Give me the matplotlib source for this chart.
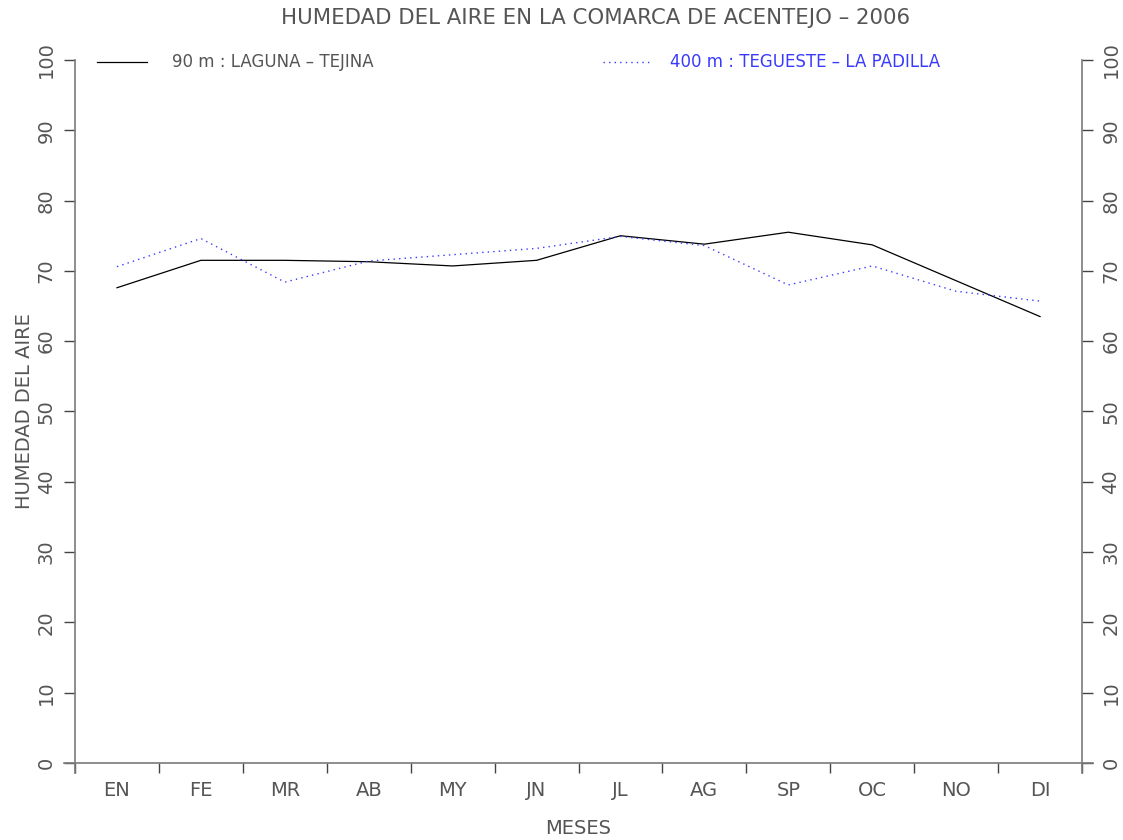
import matplotlib
matplotlib.use("Agg")
import matplotlib.pyplot as plt
import numpy as np

months = ["EN", "FE", "MR", "AB", "MY", "JN", "JL", "AG", "SP", "OC", "NO", "DI"]
laguna = [67.6, 71.5, 71.5, 71.3, 70.7, 71.5, 75.0, 73.8, 75.5, 73.7, 68.6, 63.5]
tegueste = [70.6, 74.6, 68.4, 71.4, 72.3, 73.2, 74.9, 73.6, 68.0, 70.7, 67.1, 65.7]
yticks = list(range(0, 101, 10))

TXT = "#555555"
AX = "#7a7a7a"
BLUE = "#3a3aff"
plt.rcParams.update({"font.family": "DejaVu Sans", "text.color": TXT})

fig = plt.figure(figsize=(11.23, 8.4), dpi=100)
ax = fig.add_axes([0.0668, 0.0917, 0.8967, 0.8369])

x = np.arange(len(months)) + 0.5
ax.plot(x, laguna, color="black", lw=0.9)
ax.plot(x, tegueste, color=BLUE, lw=1.0, linestyle=(0, (1, 3)))

ax.set_xlim(0, 12)
ax.set_ylim(0, 100)
for s in ax.spines.values():
    s.set_visible(False)

# axis frame: lines overshoot the plot box like the original
kw = dict(transform=ax.transAxes, clip_on=False, color=AX, lw=1.2)
ax.plot([0, 0], [-0.014, 1], **kw)
ax.plot([1, 1], [-0.014, 1], **kw)
ax.plot([-0.011, 1.011], [0, 0], **kw)

ax.set_xticks(np.arange(0, 13))
ax.set_xticklabels([])
ax.set_xticks(x, minor=True)
ax.set_xticklabels(months, minor=True)
ax.tick_params(axis="x", which="major", direction="out", length=7, width=1, color="#444")
ax.tick_params(axis="x", which="minor", length=0, pad=13, labelsize=14, labelcolor=TXT)

ax.set_yticks(yticks)
ax.set_yticklabels([str(v) for v in yticks])
ax.tick_params(axis="y", direction="out", length=8, width=1, color="#444",
               left=True, right=True, labelleft=True, labelright=True,
               labelsize=14, labelcolor=TXT, pad=6)
for t in ax.yaxis.get_major_ticks():
    for lab in (t.label1, t.label2):
        lab.set_rotation(90)
        lab.set_va("center")

ax.set_ylabel("HUMEDAD DEL AIRE", fontsize=14, color=TXT, labelpad=2)
ax.set_xlabel("MESES", fontsize=14, color=TXT, labelpad=14)

fig.text(0.53, 0.978, "HUMEDAD DEL AIRE EN LA COMARCA DE ACENTEJO \u2013 2006",
         ha="center", va="center", fontsize=15.3, color=TXT)

# legend
ly = 1 - 62 / 840
fig.add_artist(plt.Line2D([97 / 1123, 147 / 1123], [ly, ly], color="black", lw=0.9))
fig.text(172 / 1123, ly, "90 m : LAGUNA \u2013 TEJINA",
         va="center", fontsize=12, color=TXT)
fig.add_artist(plt.Line2D([603 / 1123, 650 / 1123], [ly, ly],
                          color=BLUE, lw=1.0, linestyle=(0, (1, 3))))
fig.text(670 / 1123, ly, "400 m : TEGUESTE \u2013 LA PADILLA",
         va="center", fontsize=12, color=BLUE)

fig.savefig("out.png", dpi=100)
